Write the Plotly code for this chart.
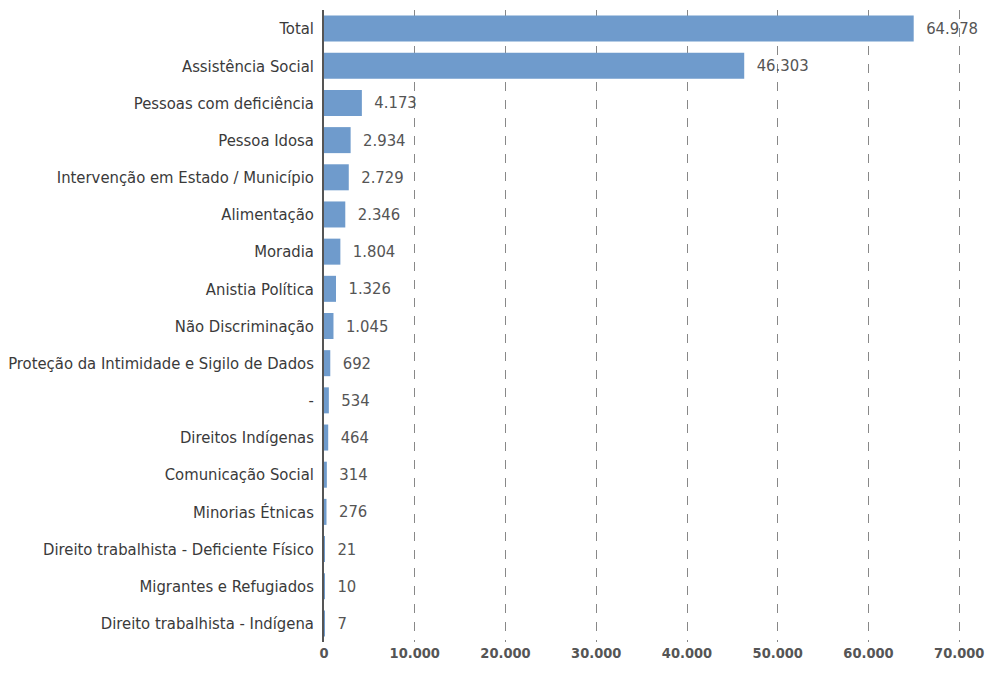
import plotly.graph_objects as go

categories = ["Total", "Assistência Social", "Pessoas com deficiência", "Pessoa Idosa",
              "Intervenção em Estado / Município", "Alimentação", "Moradia", "Anistia Política",
              "Não Discriminação", "Proteção da Intimidade e Sigilo de Dados", "-",
              "Direitos Indígenas", "Comunicação Social", "Minorias Étnicas",
              "Direito trabalhista - Deficiente Físico", "Migrantes e Refugiados",
              "Direito trabalhista - Indígena"]
values = [64978, 46303, 4173, 2934, 2729, 2346, 1804, 1326, 1045, 692, 534, 464, 314, 276, 21, 10, 7]
tick_vals = [0, 10000, 20000, 30000, 40000, 50000, 60000, 70000]
tick_text = ["0", "10.000", "20.000", "30.000", "40.000", "50.000", "60.000", "70.000"]

def fmt(v):
    return f"{v:,}".replace(",", ".")

FONT = "DejaVu Sans Condensed, sans-serif"

fig = go.Figure(go.Bar(
    y=categories, x=values, orientation="h",
    marker=dict(color="#6f9bcc", line=dict(width=0)),
    text=["  " + fmt(v) for v in values], textposition="outside",
    textfont=dict(family=FONT, size=16.5, color="#555555"),
    cliponaxis=False,
))

# page body has an 8px default margin, so the figure is sized to compensate
fig.update_layout(
    width=985, height=666,
    margin=dict(l=316, r=31, t=2, b=32),
    plot_bgcolor="white", paper_bgcolor="white",
    bargap=0.3, showlegend=False,
    font=dict(family=FONT, size=16.5, color="#444444"),
)
fig.update_yaxes(autorange="reversed", showline=True, linecolor="#555555", linewidth=1.5,
                 ticks="", showgrid=False, ticklabelstandoff=5, automargin=False,
                 tickfont=dict(family=FONT, size=16.5, color="#3a3a3a"))
fig.update_xaxes(range=[0, 70300], tickvals=tick_vals, ticktext=tick_text,
                 showgrid=True, gridcolor="#888888", griddash="dash", gridwidth=1,
                 zeroline=False, showline=False, ticks="", automargin=False,
                 ticklabeloverflow="allow",
                 tickfont=dict(family=FONT, size=14.5, color="#555555", weight="bold"))

fig.write_html("out.html")
